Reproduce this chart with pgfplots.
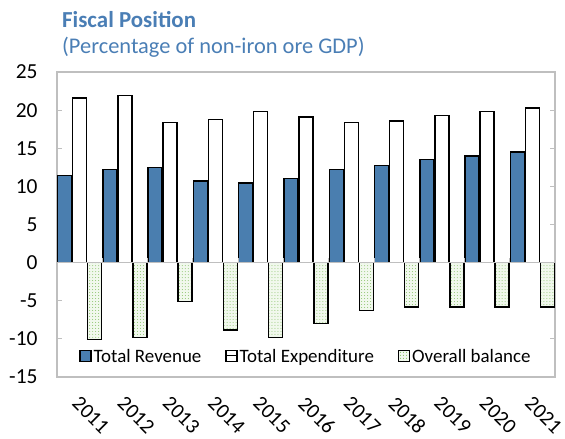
\documentclass[border=0pt]{standalone}
\usepackage{pgfplots}
\pgfplotsset{compat=1.18}
\usepackage{fontspec}
\setmainfont{Carlito}
\usetikzlibrary{patterns}
\definecolor{revblue}{HTML}{4A7EAF}
\definecolor{titleblue}{HTML}{4A7EB5}
\definecolor{dotgreen}{HTML}{8CC46C}
\definecolor{framegray}{HTML}{BFBFBF}
\begin{document}
\begin{tikzpicture}
\begin{axis}[
  scale only axis,
  width=498bp, height=305bp,
  ymin=-15, ymax=25, ytick={-15,-10,...,25},
  xmin=-0.5, xmax=10.5,
  xtick={0,...,10},
  xticklabels={2011,2012,2013,2014,2015,2016,2017,2018,2019,2020,2021},
  x tick label style={inner sep=0pt, anchor=north west, xshift=1bp, yshift=-13bp, rotate=-45, font=\fontsize{21}{21}\selectfont},
  y tick label style={font=\fontsize{21.5}{21.5}\selectfont, xshift=-16bp},
  /pgf/number format/assume math mode=true,
  major x tick style={draw=none},
  ytick style={draw=framegray, line width=0.8bp},
  tick align=inside,
  major tick length=5bp,
  axis line style={draw=framegray, line width=1.2bp},
  ybar, bar width=14bp,
  clip=false,
  legend style={at={(0.5,0.03)}, anchor=south, draw=none, fill=none,
    legend columns=3, font=\fontsize{19}{19}\selectfont,
    /tikz/every even column/.append style={column sep=22bp}},
  legend image code/.code={\draw[#1, line width=1.2bp] (0bp,-5bp) rectangle (11bp,6bp);},
]
\addplot[fill=revblue, draw=black, line width=1.4bp, bar shift=-15bp] coordinates {
(0,11.45) (1,12.2) (2,12.5) (3,10.7) (4,10.45) (5,11.0) (6,12.2) (7,12.7) (8,13.5) (9,14.0) (10,14.5)};
\addlegendentry{Total Revenue}
\addplot[fill=white, draw=black, line width=1.4bp, bar shift=0bp,
  legend image code/.code={\draw[black, fill=white, line width=1.2bp] (0bp,-5bp) rectangle (11bp,6bp); \draw[black, line width=0.8bp] (0bp,0.5bp) -- (11bp,0.5bp);}] coordinates {
(0,21.6) (1,21.9) (2,18.35) (3,18.8) (4,19.85) (5,19.1) (6,18.35) (7,18.6) (8,19.3) (9,19.85) (10,20.3)};
\addlegendentry{Total Expenditure}
\addplot[fill=dotgreen!12, draw=black, line width=1.4bp, bar shift=15bp,
  postaction={pattern=dots, pattern color=dotgreen},
  legend image code/.code={\draw[black, fill=dotgreen!12, line width=1.2bp, postaction={pattern=dots, pattern color=dotgreen}] (0bp,-5bp) rectangle (11bp,6bp);}] coordinates {
(0,-10.1) (1,-9.8) (2,-5.1) (3,-8.85) (4,-9.8) (5,-8.0) (6,-6.3) (7,-5.8) (8,-5.8) (9,-5.8) (10,-5.8)};
\addlegendentry{Overall balance}
\draw[framegray, line width=1.5bp] (axis cs:-0.5,0) -- (axis cs:10.5,0);
\pgfplotsinvokeforeach{0.5,1.5,...,9.5}{\draw[framegray, line width=0.8bp] (axis cs:#1,0) -- ([yshift=5bp]axis cs:#1,0);}
\node[anchor=base west, inner sep=0pt, text=titleblue, font=\fontsize{23}{23}\selectfont\bfseries] at ([xshift=5bp,yshift=45bp]rel axis cs:0,1) {Fiscal Position};
\node[anchor=base west, inner sep=0pt, text=titleblue, font=\fontsize{22.5}{22.5}\selectfont] at ([xshift=5bp,yshift=19bp]rel axis cs:0,1) {(Percentage of non-iron ore GDP)};
\coordinate (ll) at (rel axis cs:0,0);
\coordinate (ur) at (rel axis cs:1,1);
\end{axis}
\pgfresetboundingbox
\path ([shift={(-57bp,-62bp)}]ll) rectangle ([shift={(10bp,72bp)}]ur);
\end{tikzpicture}
\end{document}
